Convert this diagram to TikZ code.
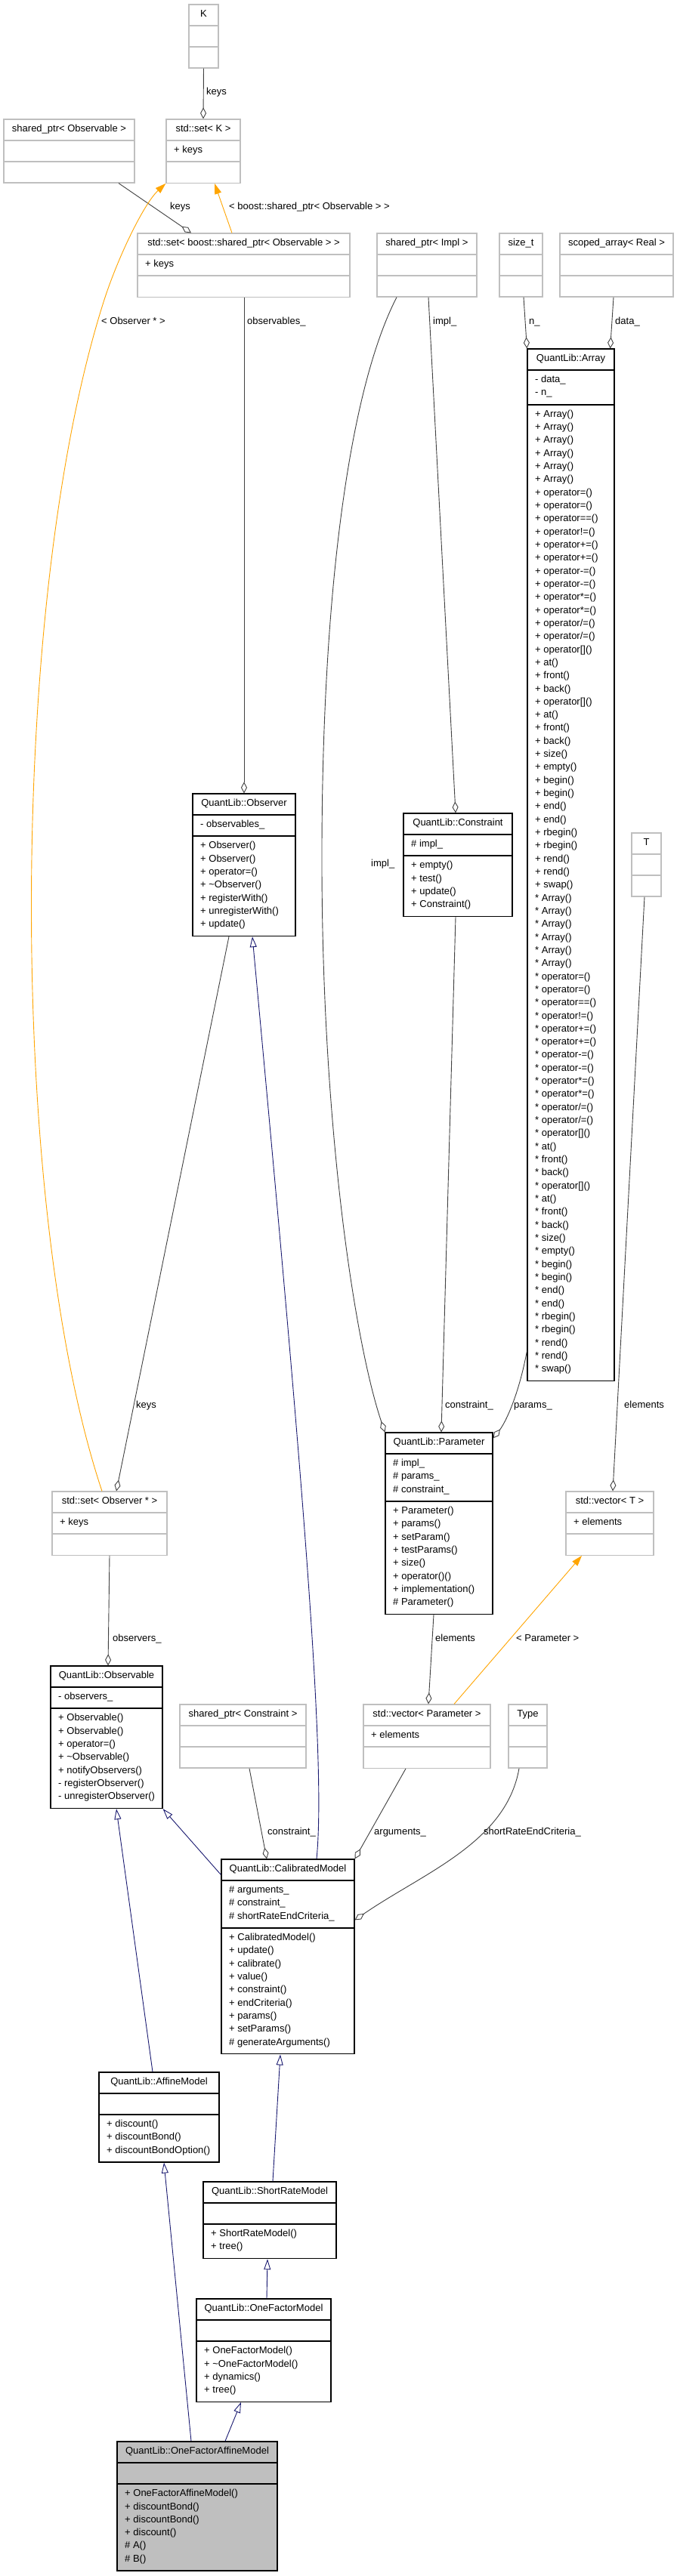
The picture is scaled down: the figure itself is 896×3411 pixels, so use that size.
\documentclass[tikz,border=0pt]{standalone}
\usepackage{fontspec}
\setmainfont{Liberation Sans}
\usetikzlibrary{arrows.meta,fit,calc}
\definecolor{edgegray}{HTML}{404040}
\definecolor{boxgray}{HTML}{BFBFBF}
\definecolor{inhblue}{HTML}{191970}
\definecolor{tmplorange}{HTML}{FFA500}
\newcommand\slh{/}
\tikzset{
  txt/.style={font=\fontsize{13}{15}\selectfont, inner sep=0pt, text=black},
  hdrtext/.style={txt, anchor=mid},
  rowtext/.style={txt, anchor=mid west},
  lbl/.style={txt, anchor=mid west},
  blk/.style={draw=black, line width=1.2pt, inner sep=0pt},
  gry/.style={draw=boxgray, line width=1.2pt, inner sep=0pt},
  cur/.style={blk},
  agg/.style={draw=edgegray, line width=0.9pt, -{Diamond[open, length=15pt, width=8pt]}},
  inh/.style={draw=inhblue, line width=0.9pt, -{Triangle[open, length=14pt, width=9pt]}},
  tpl/.style={draw=tmplorange, line width=0.9pt, -{Triangle[length=14pt, width=9pt]}},
}
\newcommand\cls[9]{%
  \pgfmathsetmacro\clsya{#4+28}%
  \pgfmathsetmacro\clsyb{\clsya+((#5>0)?(17.32*#5+11):28)}%
  \pgfmathsetmacro\clsyc{\clsyb+((#6>0)?(17.32*#6+11):28)}%
  \node[cur, fit={(#2,#4) (#3,\clsyc)}] (#1) {};
  \draw[cur, line width=2pt] (#2,\clsya) -- (#3,\clsya) (#2,\clsyb) -- (#3,\clsyb);
  \node[hdrtext] (#1-h) at ({(#2+#3)/2},{#4+14}) {#7};
  \ifnum#5>0 \foreach \rowtxt [count=\ri from 0] in {#8}{\node[rowtext] (#1-a\ri) at ({#2+10},{\clsya+14+17.32*\ri}) {\rowtxt};}\fi
  \ifnum#6>0 \foreach \rowtxt [count=\ri from 0] in {#9}{\node[rowtext] (#1-m\ri) at ({#2+10},{\clsyb+14+17.32*\ri}) {\rowtxt};}\fi
}
\begin{document}
\begin{tikzpicture}[x=1pt, y=-1pt]
\fill[white] (0,0) rectangle (896,3411);
\useasboundingbox (0,0) rectangle (896,3411);

% gray (template / external) boxes
\tikzset{cur/.style={gry}}
\cls{K}{250}{289}{6}{0}{0}{K}{}{}
\cls{spo}{5}{178}{158}{0}{0}{shared\_ptr< Observable >}{}{}
\cls{setK}{220}{318}{158}{1}{0}{std::set< K >}{+ keys}{}
\cls{setb}{182}{463}{309}{1}{0}{std::set< boost::shared\_ptr< Observable > >}{+ keys}{}
\cls{spi}{499}{631}{309}{0}{0}{shared\_ptr< Impl >}{}{}
\cls{sizet}{661}{718}{309}{0}{0}{size\_t}{}{}
\cls{sar}{741}{891}{309}{0}{0}{scoped\_array< Real >}{}{}
\cls{T}{836}{875}{1103}{0}{0}{T}{}{}
\cls{setobs}{69}{221}{1975}{1}{0}{std::set< Observer * >}{+ keys}{}
\cls{vecT}{749}{865}{1975}{1}{0}{std::vector< T >}{+ elements}{}
\cls{spc}{238}{405}{2257}{0}{0}{shared\_ptr< Constraint >}{}{}
\cls{vecP}{481}{649}{2257}{1}{0}{std::vector< Parameter >}{+ elements}{}
\cls{Type}{673}{724}{2257}{0}{0}{Type}{}{}

% black (documented class) boxes
\tikzset{cur/.style={blk}}
\cls{arr}{698}{813}{462}{2}{74}{QuantLib::Array}{- data\_,- n\_}{+ Array(),+ Array(),+ Array(),+ Array(),+ Array(),+ Array(),+ operator=(),+ operator=(),+ operator==(),+ operator!=(),+ operator+=(),+ operator+=(),+ operator-=(),+ operator-=(),+ operator*=(),+ operator*=(),+ operator\slh=(),+ operator\slh=(),+ operator[](),+ at(),+ front(),+ back(),+ operator[](),+ at(),+ front(),+ back(),+ size(),+ empty(),+ begin(),+ begin(),+ end(),+ end(),+ rbegin(),+ rbegin(),+ rend(),+ rend(),+ swap(),* Array(),* Array(),* Array(),* Array(),* Array(),* Array(),* operator=(),* operator=(),* operator==(),* operator!=(),* operator+=(),* operator+=(),* operator-=(),* operator-=(),* operator*=(),* operator*=(),* operator\slh=(),* operator\slh=(),* operator[](),* at(),* front(),* back(),* operator[](),* at(),* front(),* back(),* size(),* empty(),* begin(),* begin(),* end(),* end(),* rbegin(),* rbegin(),* rend(),* rend(),* swap()}
\cls{obs}{255}{391}{1051}{1}{7}{QuantLib::Observer}{- observables\_}{+ Observer(),+ Observer(),+ operator=(),+ \textasciitilde Observer(),+ registerWith(),+ unregisterWith(),+ update()}
\cls{cons}{534}{678}{1077}{1}{4}{QuantLib::Constraint}{\# impl\_}{+ empty(),+ test(),+ update(),+ Constraint()}
\cls{param}{510}{652}{1897}{3}{8}{QuantLib::Parameter}{\# impl\_,\# params\_,\# constraint\_}{+ Parameter(),+ params(),+ setParam(),+ testParams(),+ size(),+ operator()(),+ implementation(),\# Parameter()}
\cls{obsl}{67}{215}{2206}{1}{7}{QuantLib::Observable}{- observers\_}{+ Observable(),+ Observable(),+ operator=(),+ \textasciitilde Observable(),+ notifyObservers(),- registerObserver(),- unregisterObserver()}
\cls{calib}{293}{469}{2462}{3}{9}{QuantLib::CalibratedModel}{\# arguments\_,\# constraint\_,\# shortRateEndCriteria\_}{+ CalibratedModel(),+ update(),+ calibrate(),+ value(),+ constraint(),+ endCriteria(),+ params(),+ setParams(),\# generateArguments()}
\cls{aff}{131}{290}{2744}{0}{3}{QuantLib::AffineModel}{}{+ discount(),+ discountBond(),+ discountBondOption()}
\cls{srm}{269}{445}{2889}{0}{2}{QuantLib::ShortRateModel}{}{+ ShortRateModel(),+ tree()}
\cls{ofm}{260}{438}{3044}{0}{4}{QuantLib::OneFactorModel}{}{+ OneFactorModel(),+ \textasciitilde OneFactorModel(),+ dynamics(),+ tree()}
\tikzset{cur/.style={blk, fill=boxgray}}
\cls{ofam}{155}{367}{3233}{0}{6}{QuantLib::OneFactorAffineModel}{}{+ OneFactorAffineModel(),+ discountBond(),+ discountBond(),+ discount(),\# A(),\# B()}

% connectors
\draw[agg] (K.south) -- (setK.north);
\draw[agg] ([xshift=65.5pt]spo.south) -- ([xshift=-69.5pt]setb.north);
\draw[tpl] ([xshift=-15.5pt]setb.north) -- ([xshift=15pt]setK.south);
\draw[tpl] ([xshift=-10pt]setobs.north) .. controls (10,1600) and (10,800) .. (137,400) .. controls (155,343) and (190,270) .. (setK.south west);
\draw[agg] ([xshift=0.5pt]setb.south) -- (obs.north);
\draw[agg] ([xshift=-40pt]spi.south) .. controls (460,520) and (425,800) .. (426,1150) .. controls (427,1500) and (470,1780) .. (param.north west);
\draw[agg] ([xshift=2pt]spi.south) -- ([xshift=-3pt]cons.north);
\draw[agg] ([xshift=3.5pt]sizet.south) -- (arr.north west);
\draw[agg] ([xshift=-4pt]sar.south) -- ([xshift=-6pt]arr.north east);
\draw[agg] ([xshift=-20pt]obs.south) -- ([xshift=9pt]setobs.north);
\draw[agg] ([xshift=-3pt]cons.south) -- ([xshift=3pt]param.north);
\draw[agg] ([yshift=40pt]arr.south west) .. controls (686,1850) and (668,1885) .. ([yshift=-8pt]param.north east);
\draw[agg] ([xshift=-2.5pt]T.south) -- ([xshift=4pt]vecT.north);
\draw[agg] ([xshift=-7pt]param.south) -- ([xshift=2pt]vecP.north);
\draw[tpl] ([xshift=36pt]vecP.north) -- ([xshift=-37pt]vecT.south);
\draw[agg] (setobs.south) -- ([xshift=2pt]obsl.north);
\draw[agg] ([xshift=8.5pt]spc.south) -- ([xshift=-28pt]calib.north);
\draw[agg] ([xshift=-28pt]vecP.south) -- (calib.north east);
\draw[agg] ([xshift=-11.5pt]Type.south) .. controls (670,2440) and (560,2480) .. ([yshift=-81pt]calib.north east);
\draw[inh] ([yshift=-21pt]calib.north west) -- (obsl.south east);
\draw[inh] ([xshift=38pt]calib.north) .. controls (432,2330) and (400,1950) .. ([xshift=11pt]obs.south);
\draw[inh] ([xshift=-8.5pt]aff.north) -- ([xshift=13pt]obsl.south);
\draw[inh] ([xshift=4pt]srm.north) -- ([xshift=-10pt]calib.south);
\draw[inh] ([xshift=4pt]ofm.north) -- ([xshift=-3pt]srm.south);
\draw[inh] ([xshift=37pt]ofam.north) -- ([xshift=-30pt]ofm.south);
\draw[inh] ([xshift=-8pt]ofam.north) -- ([xshift=6.5pt]aff.south);

% connector labels
\node[lbl] (l1) at (273,123) {keys};
\node[lbl] (l2) at (225,275) {keys};
\node[lbl] (l3) at (303,275) {< boost::shared\_ptr< Observable > >};
\node[lbl] (l4) at (134,427) {< Observer * >};
\node[lbl] (l5) at (327,427) {observables\_};
\node[lbl] (l6) at (573,427) {impl\_};
\node[lbl] (l7) at (700,427) {n\_};
\node[lbl] (l8) at (814,427) {data\_};
\node[lbl] (l9) at (491,1145) {impl\_};
\node[lbl] (l10) at (180,1862) {keys};
\node[lbl] (l11) at (589,1862) {constraint\_};
\node[lbl] (l12) at (680,1862) {params\_};
\node[lbl] (l13) at (826,1862) {elements};
\node[lbl] (l14) at (576,2171) {elements};
\node[lbl] (l15) at (683,2171) {< Parameter >};
\node[lbl] (l16) at (149,2171) {observers\_};
\node[lbl] (l17) at (354,2427) {constraint\_};
\node[lbl] (l18) at (495,2427) {arguments\_};
\node[lbl] (l19) at (640,2427) {shortRateEndCriteria\_};
\end{tikzpicture}
\end{document}
